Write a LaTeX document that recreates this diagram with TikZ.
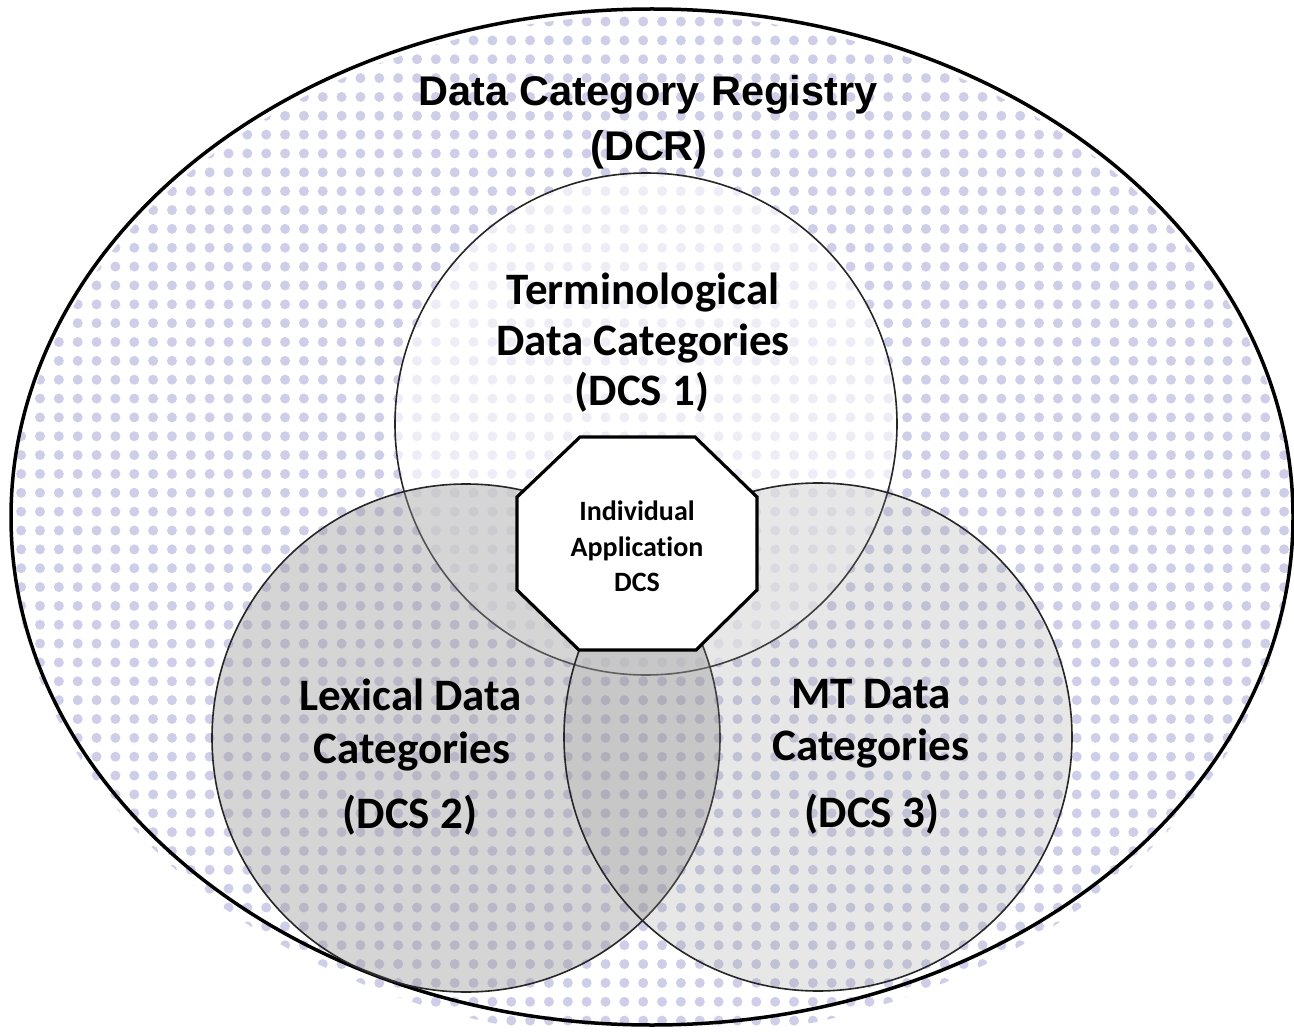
\documentclass[tikz,border=0pt]{standalone}
\usepackage{fontspec}
\newfontfamily\regfont{Liberation Sans}
\newfontfamily\catfont{Carlito}[Ligatures=NoCommon]
\definecolor{dotc}{RGB}{206,206,232}
\definecolor{setgray}{RGB}{150,150,150}
\begin{document}
\begin{tikzpicture}[x=1pt,y=-1pt,
  regtext/.style={font=\regfont\bfseries\fontsize{41.5}{48}\selectfont, anchor=base, inner sep=0pt},
  cattext/.style={font=\catfont\bfseries\fontsize{45}{54}\selectfont, anchor=base, inner sep=0pt},
  apptext/.style={font=\catfont\bfseries\fontsize{28}{34}\selectfont, anchor=base, inner sep=0pt},
  setline/.style={draw=black!85, line width=1.6pt},
  octline/.style={draw=black, line width=3.2pt, fill=white, line join=miter}]
\useasboundingbox (0,0) rectangle (1294,1032);
\fill[white] (0,0) rectangle (1294,1032);

% registry: dotted ellipse
\coordinate (reg) at (652,517);
\begin{scope}
  \clip (652,527) ellipse [x radius=641pt, y radius=512pt];
  \foreach \i in {0,...,68}{
    \foreach \j in {0,...,55}{
      \fill[dotc] (2.3+18.85*\i, 2.7+18.85*\j) circle (5pt);
    }
  }
\end{scope}
\draw[line width=3.5pt] (reg) ellipse [x radius=641pt, y radius=508pt];

% the three data category selections
\coordinate (cT) at (646,424);
\coordinate (cL) at (466,738);
\coordinate (cR) at (818,737);
\fill[white, fill opacity=0.65] (cT) circle (251pt);
\draw[setline] (cT) circle (251pt);
\fill[setgray, fill opacity=0.40] (cL) circle (254pt);
\draw[setline] (cL) circle (254pt);
\fill[setgray, fill opacity=0.22] (cR) circle (254pt);
\draw[setline] (cR) circle (254pt);

% individual application selection
\draw[octline] (580,437) coordinate (o1) -- (695,437) coordinate (o2)
  -- (757,497) coordinate (o3) -- (757,590) coordinate (o4)
  -- (696,650) coordinate (o5) -- (579,650) coordinate (o6)
  -- (517,590) coordinate (o7) -- (517,497) coordinate (o8) -- cycle;

% labels
\node[regtext] (dcr1) at (648,106) {Data Category Registry};
\node[regtext] (dcr2) at (649,161) {(DCR)};

\node[cattext] (t1) at (643,305) {Terminological};
\node[cattext] (t2) at (643,356) {Data Categories};
\node[cattext] (t3) at (642,406) {(DCS 1)};

\node[cattext] (l1) at (411,710) {Lexical Data};
\node[cattext] (l2) at (412,763) {Categories};
\node[cattext] (l3) at (410,828) {(DCS 2)};

\node[cattext] (m1) at (871,708) {MT Data};
\node[cattext] (m2) at (871,760) {Categories};
\node[cattext] (m3) at (872,827) {(DCS 3)};

\node[apptext] (a1) at (637,520) {Individual};
\node[apptext] (a2) at (637,556) {Application};
\node[apptext] (a3) at (637,591) {DCS};
\end{tikzpicture}
\end{document}
